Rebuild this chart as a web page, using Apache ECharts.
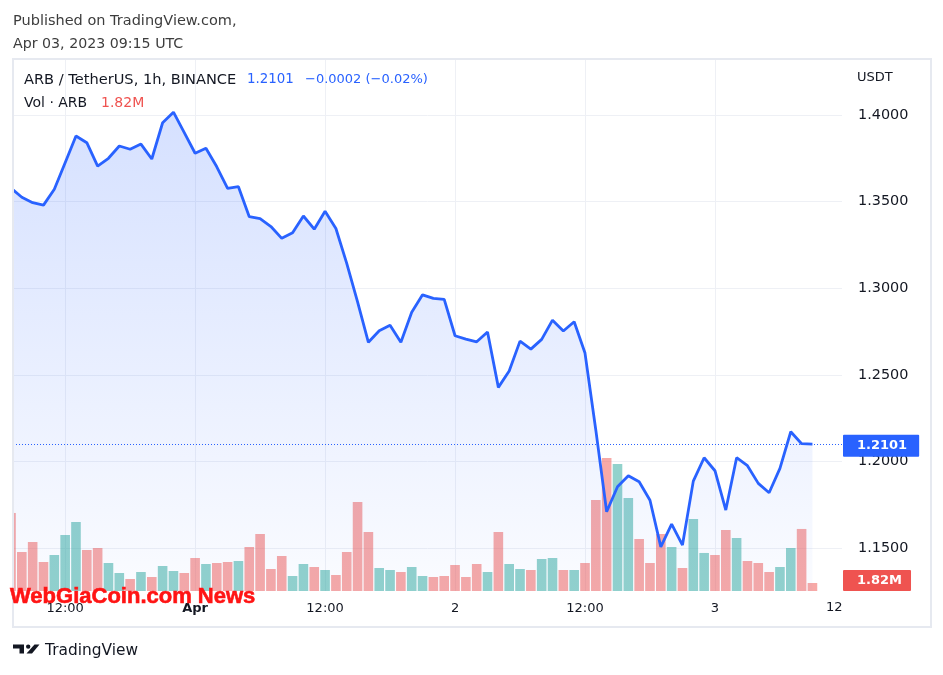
<!DOCTYPE html>
<html><head><meta charset="utf-8">
<script src="https://cdn.jsdelivr.net/npm/echarts@6/dist/echarts.min.js"></script>
<style>html,body{margin:0;padding:0;background:#fff}#c{width:943px;height:675px}</style>
</head><body><div id="c"></div>
<script>
// hourly closes, index 0 = Mar 31 07:00 UTC ... index 74 = Apr 3 09:00 UTC
const closes = [
  1.3578, 1.3525, 1.3494, 1.3480, 1.3571, 1.3724, 1.3879, 1.3840, 1.3705, 1.3750,
  1.3821, 1.3802, 1.3832, 1.3746, 1.3955, 1.4016, 1.3898, 1.3779, 1.3808, 1.3701,
  1.3577, 1.3586, 1.3413, 1.3402, 1.3356, 1.3288, 1.3320, 1.3417, 1.3341, 1.3444,
  1.3345, 1.3144, 1.2922, 1.2688, 1.2755, 1.2786, 1.2688, 1.2861, 1.2962, 1.2942,
  1.2936, 1.2726, 1.2707, 1.2691, 1.2748, 1.2428, 1.2522, 1.2695, 1.2649, 1.2705,
  1.2816, 1.2753, 1.2807, 1.2626, 1.2181, 1.1710, 1.1855, 1.1918, 1.1883, 1.1777,
  1.1508, 1.1639, 1.1518, 1.1887, 1.2022, 1.1947, 1.1720, 1.2022, 1.1976, 1.1874,
  1.1820, 1.1961, 1.2172, 1.2103, 1.2101
];
// hourly volume, millions ARB
const volumes = [
  17.75, 8.87, 11.15, 6.60, 8.19, 12.74, 15.70, 9.33, 9.78, 6.37,
  4.10, 2.73, 4.32, 3.19, 5.69, 4.55, 4.10, 7.51, 6.14, 6.37,
  6.60, 6.83, 10.01, 12.97, 5.01, 7.96, 3.41, 6.14, 5.46, 4.78,
  3.64, 8.87, 20.25, 13.42, 5.23, 4.78, 4.32, 5.46, 3.41, 3.19,
  3.41, 5.92, 3.19, 6.14, 4.32, 13.42, 6.14, 5.01, 4.78, 7.28,
  7.51, 4.78, 4.78, 6.37, 20.70, 30.26, 28.89, 21.16, 11.83, 6.37,
  12.97, 10.01, 5.23, 16.38, 8.65, 8.19, 13.88, 12.06, 6.83, 6.37,
  4.32, 5.46, 9.78, 14.11, 1.82
];
// 1 = up candle (green volume), 0 = down candle (red volume)
const volUp = [
  0,0,0,0,1,1,1,0,0,1,
  1,0,1,0,1,1,0,0,1,0,
  0,1,0,0,0,0,1,1,0,1,
  0,0,0,0,1,1,0,1,1,0,
  0,0,0,0,1,0,1,1,0,1,
  1,0,1,0,0,0,1,1,0,0,
  0,1,0,1,1,0,0,1,0,0,
  0,1,1,0,0
];
const timeTickIdx = [5, 17, 29, 41, 53, 65];
const timeTickLabels = ['12:00', 'Apr', '12:00', '2', '12:00', '3'];
const priceTicks = [1.15, 1.20, 1.25, 1.30, 1.35, 1.40];
const lastPrice = 1.2101;
const lastVol = 1.82;

const F = '"DejaVu Sans", Verdana, sans-serif';
const TXT = '#131722';
const GRIDC = '#eef0f5';
const BLUE = '#2962ff';
const UPC = 'rgba(38,166,154,0.5)';
const DNC = 'rgba(239,83,80,0.5)';

const labelMap = {};
timeTickIdx.forEach((v, i) => labelMap[v] = timeTickLabels[i]);

const chart = echarts.init(document.getElementById('c'), null, {renderer: 'canvas'});
chart.setOption({
  animation: false,
  backgroundColor: '#ffffff',
  textStyle: {fontFamily: F},
  grid: {left: 13, right: 101, top: 59, bottom: 84, containLabel: false},
  xAxis: {
    type: 'value', min: 0.185, max: 76.73,
    axisLine: {show: false},
    axisTick: {show: false, customValues: timeTickIdx},
    axisLabel: {
      customValues: timeTickIdx, margin: 11, color: TXT, fontSize: 13, fontFamily: F,
      formatter: v => labelMap[Math.round(v)] === 'Apr' ? '{b|Apr}' : labelMap[Math.round(v)],
      rich: {b: {fontWeight: 'bold', fontSize: 13, color: TXT, fontFamily: F}}
    },
    splitLine: {show: true, lineStyle: {color: GRIDC, width: 1}}
  },
  yAxis: [{
    type: 'value', position: 'right', min: 1.1253, max: 1.4323,
    axisLine: {show: false},
    axisTick: {show: false, customValues: priceTicks},
    axisLabel: {customValues: priceTicks, margin: 16, color: TXT, fontSize: 14.4, fontFamily: F,
      formatter: v => v.toFixed(4)},
    splitLine: {show: true, lineStyle: {color: GRIDC, width: 1}}
  }, {
    type: 'value', min: 0, max: 121, show: false, splitLine: {show: false}
  }],
  series: [{
    type: 'bar', yAxisIndex: 1, barWidth: 9.6, z: 1, clip: true,
    data: volumes.map((v, i) => ({value: [i, v], itemStyle: {color: volUp[i] ? UPC : DNC}})),
    markLine: {
      silent: true, symbol: 'none',
      lineStyle: {color: 'rgba(0,0,0,0)', width: 1},
      data: [{yAxis: lastVol}],
      label: {show: true, position: 'end', distance: 1, offset: [0, -2.5], formatter: lastVol.toFixed(2) + 'M',
        backgroundColor: '#ef5350', color: '#fff', fontWeight: 'bold', fontSize: 13, fontFamily: F,
        padding: [4, 9, 4, 14], borderRadius: 1}
    }
  }, {
    type: 'line', z: 2, symbol: 'none', showSymbol: false, clip: true,
    data: closes.map((v, i) => [i, v]),
    lineStyle: {color: BLUE, width: 2.8},
    areaStyle: {origin: 'start', color: new echarts.graphic.LinearGradient(0, 0, 0, 1, [
      {offset: 0, color: 'rgba(41,98,255,0.28)'}, {offset: 1, color: 'rgba(41,98,255,0.03)'}])},
    markLine: {
      silent: true, symbol: 'none',
      lineStyle: {type: [1, 2], color: BLUE, width: 1},
      data: [{yAxis: lastPrice}],
      label: {position: 'end', distance: 1, offset: [0, 1.5], formatter: lastPrice.toFixed(4),
        backgroundColor: BLUE, color: '#fff', fontWeight: 'bold', fontSize: 13, fontFamily: F,
        padding: [5, 12, 4, 14], borderRadius: 1}
    }
  }],
  graphic: [
    // mask outside the pane on the left
    {type: 'rect', shape: {x: 0, y: 59, width: 13, height: 540}, style: {fill: '#ffffff'}, z: 15, silent: true},
    {type: 'rect', shape: {x: 13, y: 59, width: 918, height: 568}, style: {fill: 'none', stroke: '#e6e9f0', lineWidth: 2}, z: 16, silent: true},
    {type: 'text', x: 13, y: 21, style: {text: 'Published on TradingView.com,', font: '14.5px ' + F, fill: '#3d3d3d', verticalAlign: 'middle'}},
    {type: 'text', x: 13, y: 44, style: {text: 'Apr 03, 2023 09:15 UTC', font: '14.2px ' + F, fill: '#3d3d3d', verticalAlign: 'middle'}},
    {type: 'text', x: 24, y: 80, z: 10, style: {text: 'ARB / TetherUS, 1h, BINANCE', font: '14.6px ' + F, fill: TXT, verticalAlign: 'middle'}},
    {type: 'text', x: 247, y: 80, z: 10, style: {text: '1.2101', font: '13.4px ' + F, fill: BLUE, verticalAlign: 'middle'}},
    {type: 'text', x: 305, y: 80, z: 10, style: {text: '\u22120.0002 (\u22120.02%)', font: '13px ' + F, fill: BLUE, verticalAlign: 'middle'}},
    {type: 'text', x: 24, y: 103, z: 10, style: {text: 'Vol \u00b7 ARB', font: '14px ' + F, fill: TXT, verticalAlign: 'middle'}},
    {type: 'text', x: 101, y: 103, z: 10, style: {text: '1.82M', font: '14px ' + F, fill: '#ef5350', verticalAlign: 'middle'}},
    {type: 'text', x: 857, y: 78, z: 10, style: {text: 'USDT', font: '13px ' + F, fill: TXT, verticalAlign: 'middle'}},
    {type: 'text', x: 826, y: 608, z: 10, style: {text: '12', font: '13px ' + F, fill: TXT, verticalAlign: 'middle'}},
    {type: 'text', x: 10, y: 597, z: 20, style: {text: 'WebGiaCoin.com News', font: 'bold 22px "Liberation Sans", Arial, sans-serif', fill: '#ff1414', verticalAlign: 'middle', stroke: '#ff1414', lineWidth: 0.6}},
    // TradingView logo
    {type: 'polygon', z: 10, shape: {points: [[13, 644.5], [24, 644.5], [24, 653.5], [19.5, 653.5], [19.5, 648.5], [13, 648.5]]}, style: {fill: TXT}},
    {type: 'circle', z: 10, shape: {cx: 28.2, cy: 646.6, r: 2.2}, style: {fill: TXT}},
    {type: 'polygon', z: 10, shape: {points: [[34.5, 644.5], [39.5, 644.5], [32, 653.5], [26.5, 653.5]]}, style: {fill: TXT}},
    {type: 'text', x: 45, y: 651, z: 10, style: {text: 'TradingView', font: '15.4px ' + F, fill: TXT, verticalAlign: 'middle'}}
  ]
});
</script></body></html>
